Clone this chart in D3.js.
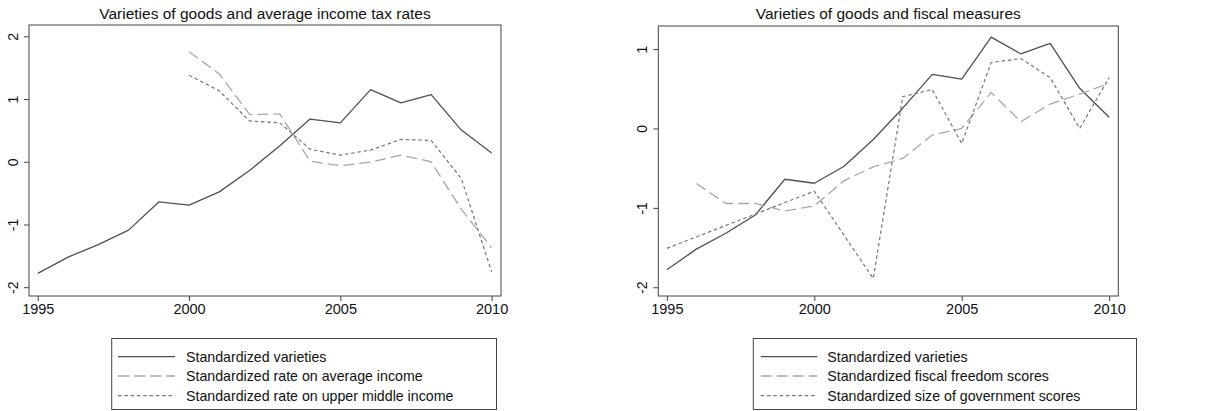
<!DOCTYPE html>
<html><head><meta charset="utf-8">
<script src="https://cdn.jsdelivr.net/npm/d3@7"></script>
<style>body{margin:0;background:#fff}svg{display:block}text{font-family:"Liberation Sans",Arial,sans-serif;fill:#111}</style>
</head><body>
<script>
const years = d3.range(1995, 2011);
const varieties = [-1.78,-1.52,-1.32,-1.09,-0.64,-0.69,-0.48,-0.14,0.255,0.68,0.62,1.15,0.94,1.07,0.505,0.14];
const taxYears = d3.range(2000, 2011);
const rateAverage = [1.755,1.40,0.755,0.76,0.01,-0.064,-0.005,0.106,0.0,-0.76,-1.37];
const rateUpperMiddle = [1.38,1.13,0.65,0.62,0.20,0.106,0.186,0.356,0.34,-0.27,-1.755];
const fiscalYears = d3.range(1996, 2011);
const fiscalFreedom = [-0.693,-0.945,-0.945,-1.04,-0.975,-0.66,-0.483,-0.378,-0.084,0.0,0.454,0.084,0.307,0.433,0.567];
const govYears = [1995,2000,2002,2003,2004,2005,2006,2007,2008,2009,2010];
const govSize = [-1.51,-0.79,-1.89,0.40,0.49,-0.19,0.83,0.88,0.64,0.0,0.64];
const xTicks = [1995,2000,2005,2010];
const leftYTicks = [-2,-1,0,1,2];
const rightYTicks = [-2,-1,0,1];

const styles = {
  solid:{stroke:"#505050", dash:null, w:1.3},
  dash:{stroke:"#a8a8a8", dash:"11,5", w:1.3},
  dot:{stroke:"#777", dash:"3.5,2.8", w:1.2}
};

const svg = d3.select("body").append("svg").attr("width",1225).attr("height",411);

function panel(cfg){
  const g = svg.append("g");
  const x = d3.scaleLinear().domain([1994.71,2010.31]).range([cfg.left,cfg.right]);
  const y = d3.scaleLinear().domain(cfg.ydom).range([cfg.bottom,cfg.top]);
  g.append("text").attr("x",(cfg.left+cfg.right)/2).attr("y",19).attr("text-anchor","middle")
    .style("font-size","15.5px").text(cfg.title);
  g.append("rect").attr("x",cfg.left).attr("y",cfg.top).attr("width",cfg.right-cfg.left)
    .attr("height",cfg.bottom-cfg.top).attr("fill","none").attr("stroke","#444").attr("stroke-width",1);
  const xa = g.append("g").attr("transform",`translate(0,${cfg.bottom})`)
    .call(d3.axisBottom(x).tickValues(xTicks).tickFormat(d=>String(d)).tickSize(5).tickPadding(3));
  xa.select(".domain").remove();
  xa.selectAll("line").attr("stroke","#444");
  xa.selectAll("text").style("font-size","14.5px").attr("fill","#111");
  const ya = g.append("g").attr("transform",`translate(${cfg.left},0)`)
    .call(d3.axisLeft(y).tickValues(cfg.yticks).tickFormat(d=>String(d)).tickSize(5).tickPadding(0));
  ya.select(".domain").remove();
  ya.selectAll("line").attr("stroke","#444");
  ya.selectAll("text").style("font-size","14px").attr("fill","#111")
    .attr("text-anchor","middle").attr("x",0).attr("dy",0)
    .attr("transform","translate(-11,0) rotate(-90)");
  const line = d3.line().x(d=>x(d[0])).y(d=>y(d[1]));
  cfg.series.forEach(s=>{
    const st = styles[s.style];
    g.append("path").datum(s.xs.map((v,i)=>[v,s.ys[i]])).attr("d",line)
      .attr("fill","none").attr("stroke",st.stroke).attr("stroke-width",st.w)
      .attr("stroke-dasharray",st.dash).attr("stroke-linejoin","round");
  });
  const L = cfg.legend;
  g.append("rect").attr("x",L.x0).attr("y",338.5).attr("width",L.x1-L.x0).attr("height",71)
    .attr("fill","none").attr("stroke","#444").attr("stroke-width",1);
  const rows=[356.7,376,395.7];
  cfg.series.forEach((s,i)=>{
    const st=styles[s.style];
    g.append("line").attr("x1",L.l0).attr("x2",L.l1).attr("y1",rows[i]).attr("y2",rows[i])
      .attr("stroke",st.stroke).attr("stroke-width",st.w).attr("stroke-dasharray",st.dash);
    g.append("text").attr("x",L.tx).attr("y",rows[i]+5).style("font-size","14.2px").text(s.name);
  });
}

panel({title:"Varieties of goods and average income tax rates", left:29, right:501, top:25, bottom:296,
  ydom:[-2.14,2.18], yticks:leftYTicks,
  legend:{x0:111.7,x1:496.5,l0:118,l1:175,tx:186},
  series:[
    {name:"Standardized varieties", xs:years, ys:varieties, style:"solid"},
    {name:"Standardized rate on average income", xs:taxYears, ys:rateAverage, style:"dash"},
    {name:"Standardized rate on upper middle income", xs:taxYears, ys:rateUpperMiddle, style:"dot"}
  ]});
panel({title:"Varieties of goods and fiscal measures", left:658.3, right:1118.3, top:26, bottom:296,
  ydom:[-2.11,1.29], yticks:rightYTicks,
  legend:{x0:753.3,x1:1136.5,l0:760.7,l1:817.3,tx:827.3},
  series:[
    {name:"Standardized varieties", xs:years, ys:varieties, style:"solid"},
    {name:"Standardized fiscal freedom scores", xs:fiscalYears, ys:fiscalFreedom, style:"dash"},
    {name:"Standardized size of government scores", xs:govYears, ys:govSize, style:"dot"}
  ]});
</script>
</body></html>
